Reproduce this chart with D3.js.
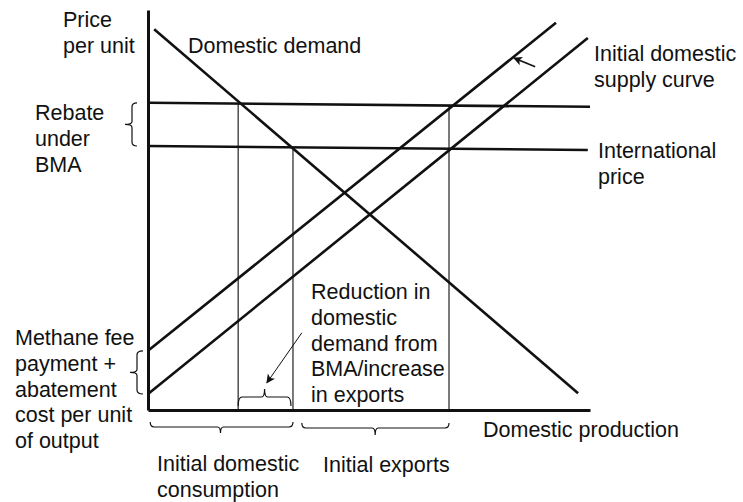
<!DOCTYPE html>
<html>
<head>
<meta charset="utf-8">
<script src="https://cdnjs.cloudflare.com/ajax/libs/d3/7.8.5/d3.min.js"></script>
<style>
  body { margin: 0; background: #fff; }
  text { font-family: "Liberation Sans", Arial, sans-serif; font-size: 21.5px; fill: #111; }
</style>
</head>
<body>
<div id="chart"></div>
<script>
// Data (quantity 0-100 on x, price 0-100 on y)
var demand = [[1.4, 95.2], [97.3, 4.2]];
var initialSupply = [[0, 4], [99.5, 93]];
var shiftedSupply = [[0, 14.8], [92.3, 96.8]];
var rebatePrice = [[0, 76.8], [100, 75.8]];
var intlPrice = [[0, 66], [99.5, 65]];

// quantities where the thin drop lines sit
var consumptionWithRebate = 20.4;
var consumptionInitial = 32.8;
var exportsEnd = 68.1;

// annotation arrows [from, to]
var shiftArrow = [[87.6, 85.8], [82.8, 88.0]];
var reductionArrow = [[34.8, 19.3], [26.9, 6.8]];

// svg container
var svgWidth = 743;
var svgHeight = 502;

var margin = { top: 10, right: 153, bottom: 92, left: 148 };
var width = svgWidth - margin.left - margin.right;
var height = svgHeight - margin.top - margin.bottom;

var svg = d3.select("#chart")
  .append("svg")
  .attr("width", svgWidth)
  .attr("height", svgHeight);

svg.append("defs").append("marker")
  .attr("id", "arrow")
  .attr("viewBox", "0 0 10 10")
  .attr("refX", 9)
  .attr("refY", 5)
  .attr("markerWidth", 10)
  .attr("markerHeight", 9)
  .attr("markerUnits", "userSpaceOnUse")
  .attr("orient", "auto")
  .append("path")
  .attr("d", "M0,0 L10,5 L0,10 L2.5,5 Z")
  .attr("fill", "#111");

var chartGroup = svg.append("g")
  .attr("transform", `translate(${margin.left}, ${margin.top})`);

var x = d3.scaleLinear().domain([0, 100]).range([0, width]);
var y = d3.scaleLinear().domain([0, 100]).range([height, 0]);

// price of a straight line at quantity q
function priceAt(line, q) {
  var t = (q - line[0][0]) / (line[1][0] - line[0][0]);
  return line[0][1] + t * (line[1][1] - line[0][1]);
}

// thin drop lines
var drops = [
  { q: consumptionWithRebate, top: rebatePrice },
  { q: consumptionInitial, top: intlPrice },
  { q: exportsEnd, top: rebatePrice }
];
chartGroup.selectAll(".drop")
  .data(drops)
  .enter()
  .append("line")
  .attr("class", "drop")
  .attr("x1", d => x(d.q))
  .attr("x2", d => x(d.q))
  .attr("y1", d => y(priceAt(d.top, d.q)))
  .attr("y2", y(0))
  .attr("stroke", "#222")
  .attr("stroke-width", 1.2);

// main lines
var lineGen = d3.line().x(d => x(d[0])).y(d => y(d[1]));
[demand, initialSupply, shiftedSupply, rebatePrice, intlPrice].forEach(function(l) {
  chartGroup.append("path")
    .attr("d", lineGen(l))
    .attr("fill", "none")
    .attr("stroke", "#111")
    .attr("stroke-width", 2.6);
});

// axes (no ticks)
chartGroup.append("g")
  .attr("transform", `translate(0, ${height})`)
  .call(d3.axisBottom(x).ticks(0).tickSizeOuter(0))
  .select(".domain")
  .attr("stroke", "#111")
  .attr("stroke-width", 3);

chartGroup.append("g")
  .call(d3.axisLeft(y).ticks(0).tickSizeOuter(0))
  .select(".domain")
  .attr("stroke", "#111")
  .attr("stroke-width", 3);

// arrows
[shiftArrow, reductionArrow].forEach(function(a, i) {
  chartGroup.append("line")
    .attr("x1", x(a[0][0]))
    .attr("y1", y(a[0][1]))
    .attr("x2", x(a[1][0]))
    .attr("y2", y(a[1][1]))
    .attr("stroke", "#111")
    .attr("stroke-width", i === 0 ? 1.6 : 1)
    .attr("marker-end", "url(#arrow)");
});

// braces
function vBrace(px, y1, y2, w, t) {
  var ym = (y1 + y2) / 2;
  return `M${px + w},${y1} Q${px},${y1} ${px},${y1 + 4} L${px},${ym - 3} Q${px},${ym} ${px - t},${ym}` +
    ` Q${px},${ym} ${px},${ym + 3} L${px},${y2 - 4} Q${px},${y2} ${px + w},${y2}`;
}
function hBrace(py, x1, x2, w, t, xm) {
  if (xm === undefined) xm = (x1 + x2) / 2;
  return `M${x1},${py + w} Q${x1},${py} ${x1 + 4},${py} L${xm - 3},${py} Q${xm},${py} ${xm},${py - t}` +
    ` Q${xm},${py} ${xm + 3},${py} L${x2 - 4},${py} Q${x2},${py} ${x2},${py + w}`;
}
var braces = [
  vBrace(x(0) - 16, y(rebatePrice[0][1]), y(intlPrice[0][1]), 5, 7),
  vBrace(x(0) - 11, y(shiftedSupply[0][1]), y(initialSupply[0][1]), 6, 7),
  hBrace(y(0) - 13, x(consumptionWithRebate), x(consumptionInitial) - 2, 9, 8),
  hBrace(y(0) + 17, x(0.5), x(consumptionInitial), -5, -6, x(16.4)),
  hBrace(y(0) + 18, x(34.8), x(exportsEnd), -5, -7, x(51.4))
];
chartGroup.selectAll(".brace")
  .data(braces)
  .enter()
  .append("path")
  .attr("class", "brace")
  .attr("d", d => d)
  .attr("fill", "none")
  .attr("stroke", "#111")
  .attr("stroke-width", 1.2);

// labels
var labels = [
  { x: 63, y: 27, lines: ["Price", "per unit"] },
  { x: 188, y: 53, lines: ["Domestic demand"] },
  { x: 35, y: 120, lines: ["Rebate", "under", "BMA"] },
  { x: 594, y: 61, lines: ["Initial domestic", "supply curve"] },
  { x: 598, y: 158, lines: ["International", "price"] },
  { x: 15, y: 345, lines: ["Methane fee", "payment +", "abatement", "cost per unit", "of output"] },
  { x: 311, y: 299, lines: ["Reduction in", "domestic", "demand from", "BMA/increase", "in exports"] },
  { x: 483, y: 437, lines: ["Domestic production"] },
  { x: 157, y: 471, lines: ["Initial domestic", "consumption"] },
  { x: 323, y: 472, lines: ["Initial exports"] }
];
labels.forEach(function(l) {
  var t = svg.append("text")
    .attr("x", l.x)
    .attr("y", l.y);
  l.lines.forEach(function(s, i) {
    t.append("tspan")
      .attr("x", l.x)
      .attr("dy", i === 0 ? 0 : 25.8)
      .text(s);
  });
});
</script>
</body>
</html>
